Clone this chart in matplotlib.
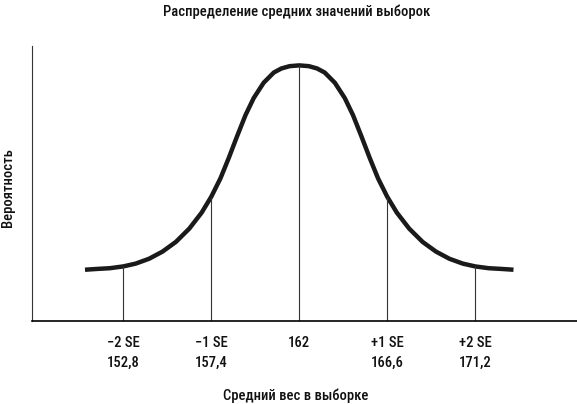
import matplotlib
matplotlib.use("Agg")
import matplotlib.pyplot as plt
from matplotlib import font_manager

# Data (curve points: sample mean weight -> relative probability)
weights = [150.80, 151.40, 152.10, 152.80, 153.45, 154.15, 154.85, 155.55, 156.25,
           156.90, 157.40, 157.88, 158.31, 158.75, 159.19, 159.62, 160.14, 160.67,
           161.07, 161.50, 162.00, 162.50, 162.93, 163.33, 163.86, 164.38, 164.81,
           165.25, 165.69, 166.12, 166.60, 167.10, 167.75, 168.45, 169.15, 169.85,
           170.55, 171.20, 171.90, 172.60, 173.20]
density = [0.199, 0.202, 0.205, 0.212, 0.223, 0.242, 0.270, 0.308, 0.360,
           0.423, 0.485, 0.557, 0.636, 0.722, 0.805, 0.872, 0.932, 0.972,
           0.988, 0.997, 1.000, 0.997, 0.988, 0.972, 0.932, 0.872, 0.805,
           0.722, 0.636, 0.557, 0.485, 0.423, 0.360, 0.308, 0.270, 0.242,
           0.223, 0.212, 0.205, 0.202, 0.199]
tick_pos = [152.8, 157.4, 162.0, 166.6, 171.2]
tick_se = ["\u22122 SE", "\u22121 SE", "162", "+1 SE", "+2 SE"]
tick_val = ["152,8", "157,4", "", "166,6", "171,2"]

available = {f.name for f in font_manager.fontManager.ttflist}
wanted = ['Roboto Condensed', 'DejaVu Sans Condensed', 'Liberation Sans Narrow',
          'Open Sans Condensed', 'Roboto', 'DejaVu Sans']
FONT = [f for f in wanted if f in available] or ['DejaVu Sans']
plt.rcParams['font.family'] = FONT
narrow = FONT[0] in ('Roboto Condensed', 'DejaVu Sans Condensed',
                     'Liberation Sans Narrow', 'Open Sans Condensed')
FS = 10.5 if narrow else 9.5
TXT = '#111111'

fig = plt.figure(figsize=(5.77, 4.04), dpi=100)
ax = fig.add_axes([32 / 577, (404 - 320.5) / 404, 1 - 32 / 577, (320.5 - 46) / 404])

ax.plot(weights, density, color='#1a1a1a', lw=3.2, solid_capstyle='butt',
        solid_joinstyle='round')
heights = [density[weights.index(p)] for p in tick_pos]
ax.vlines(tick_pos, 0, heights, color='#333333', lw=0.8)

ax.set_xlim(148.03, 176.52)
ax.set_ylim(0, 1.076)
for s in ['top', 'right']:
    ax.spines[s].set_visible(False)
ax.spines['left'].set_linewidth(0.8)
ax.spines['bottom'].set_linewidth(1.2)
ax.spines['left'].set_color('#333333')

ax.set_yticks([])
ax.set_xticks(tick_pos)
labels = [a + ("\n" + b if b else "") for a, b in zip(tick_se, tick_val)]
ax.set_xticklabels(labels, fontsize=FS, linespacing=1.55, va='top', color=TXT,
                   fontweight=500)
ax.tick_params(axis='x', length=0, pad=11)

fig.text(297 / 577, 1 - 12 / 404, "Распределение средних значений выборок",
         ha='center', va='center', fontsize=FS, color=TXT, fontweight=500)
fig.text(296 / 577, 1 - 396 / 404, "Средний вес в выборке",
         ha='center', va='center', fontsize=FS, color=TXT, fontweight=500)
fig.text(8.5 / 577, 1 - 188 / 404, "Вероятность", rotation=90,
         ha='center', va='center', fontsize=FS, color=TXT, fontweight=500)

fig.savefig("out.png", dpi=100)
